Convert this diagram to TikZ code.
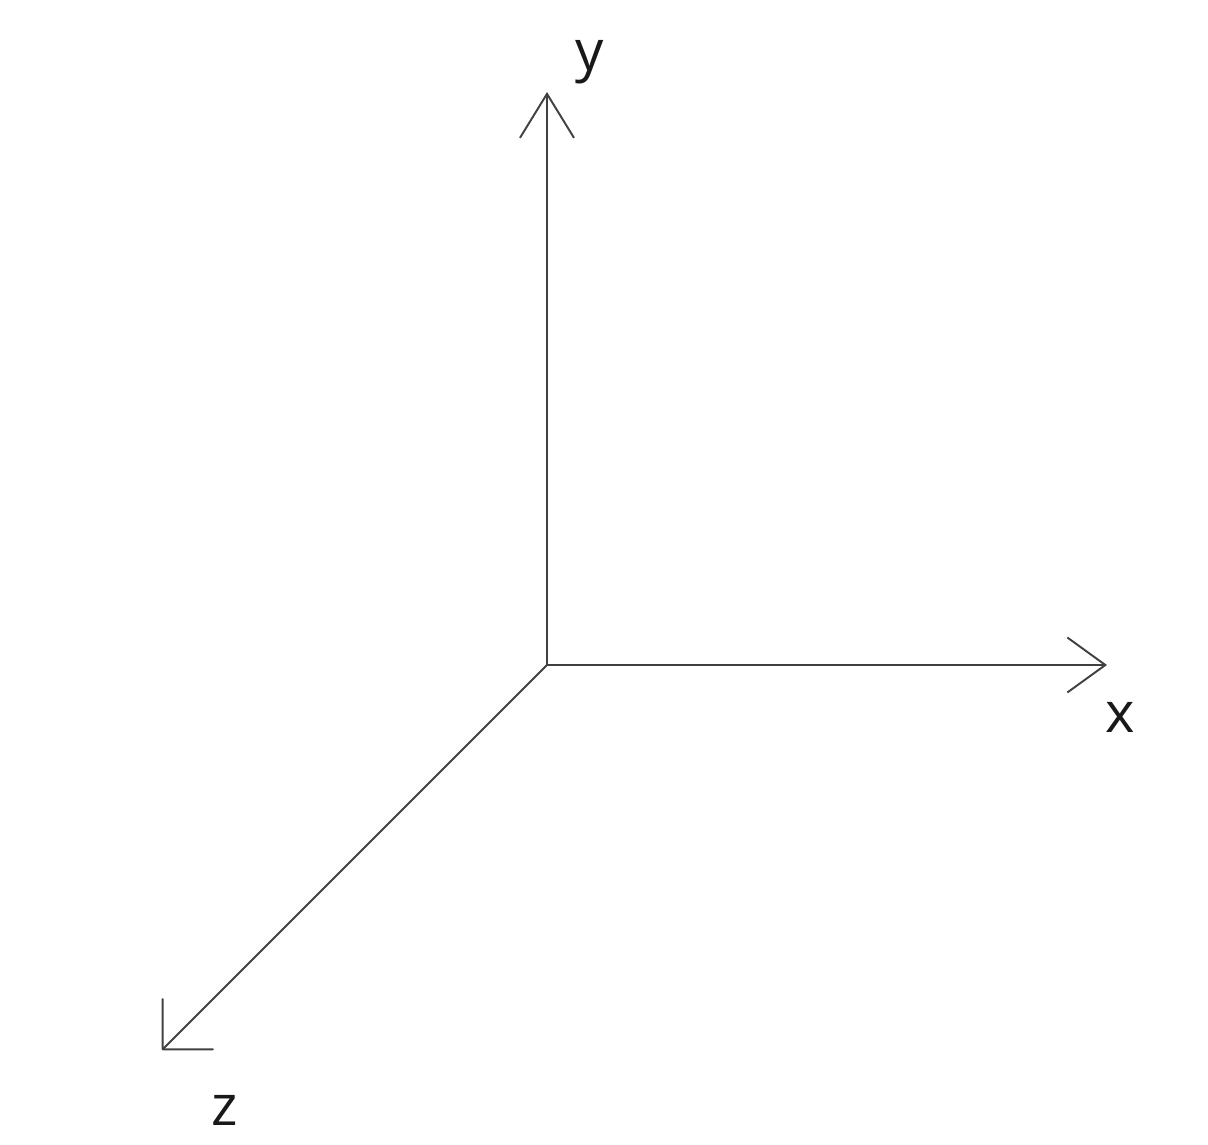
\documentclass[tikz,border=0pt]{standalone}
\usepackage{fontspec}
\setmainfont{Open Sans}
\usetikzlibrary{arrows.meta}
\begin{document}
\begin{tikzpicture}[x=0.02cm,y=0.02cm,
  axis/.style={draw=black!75,line width=1.1pt},
  lab/.style={font=\fontsize{32}{38}\selectfont,text=black!90}]
\useasboundingbox (-547,-479) rectangle (661,665);
\coordinate (O) at (0,0);
\coordinate (X) at (560,0);
\coordinate (Y) at (0,573);
\coordinate (Z) at (-385,-385);
\draw[axis,-{Straight Barb[length=0.76cm,width=1.1cm,line width=1.1pt]}] (O) -- (X);
\draw[axis,-{Straight Barb[length=0.88cm,width=1.08cm,line width=1.1pt]}] (O) -- (Y);
\draw[axis,-{Straight Barb[length=0.71cm,width=1.42cm,line width=1.1pt,round]}] (O) -- (Z);
\node[lab] (xl) at (573,-52) {x};
\node[lab] (yl) at (43,603) {y};
\node[lab] (zl) at (-322,-445) {z};
\end{tikzpicture}
\end{document}
